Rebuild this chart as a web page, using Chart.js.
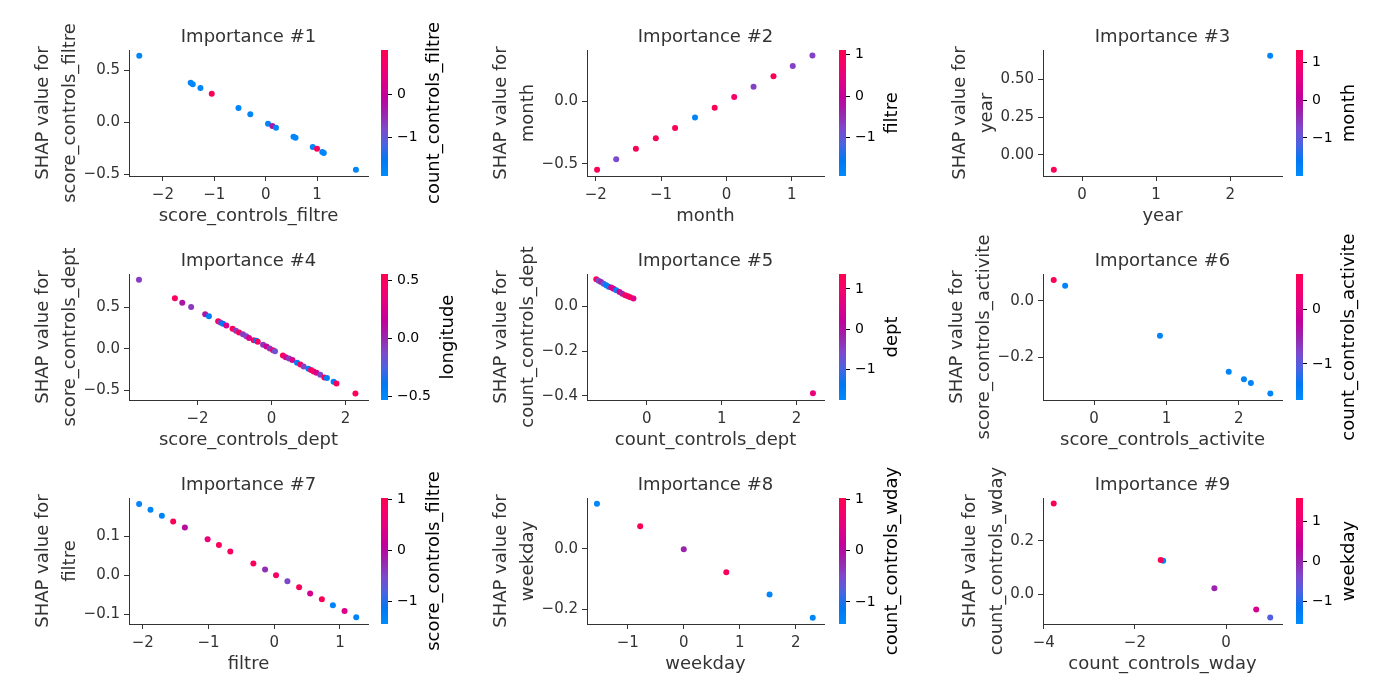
<!DOCTYPE html>
<html><head><meta charset="utf-8">
<script src="https://cdn.jsdelivr.net/npm/chart.js@4.4.1/dist/chart.umd.min.js"></script>
<style>html,body{margin:0;padding:0;background:#fff;width:1400px;height:700px;overflow:hidden;position:relative}canvas{position:absolute}</style>
</head><body>
<script>
// ---------- data ----------
const features = ['score_controls_filtre','month','year','score_controls_dept','count_controls_dept','score_controls_activite','filtre','weekday','count_controls_wday'];
const colorFeatures = ['count_controls_filtre','filtre','month','longitude','dept','count_controls_activite','score_controls_filtre','count_controls_wday','weekday'];

const p1X = [-2.46,-1.46,-1.42,-1.27,-1.05,-0.53,-0.30,0.045,0.13,0.20,0.54,0.58,0.915,0.998,1.10,1.13,1.755];
const p1Y = [0.643,0.382,0.367,0.331,0.276,0.138,0.077,-0.013,-0.036,-0.052,-0.139,-0.148,-0.238,-0.255,-0.287,-0.296,-0.457];
const p1C = [-1.8,-1.8,-1.8,-1.8,0.95,-1.8,-1.8,-1.8,-0.28,-1.8,-1.8,-1.8,-1.8,0.95,-1.8,-1.8,-1.8];

const p2X = [-1.98,-1.687,-1.386,-1.081,-0.786,-0.481,-0.18,0.119,0.415,0.72,1.015,1.316];
const p2Y = [-0.548,-0.465,-0.380,-0.297,-0.214,-0.131,-0.051,0.034,0.117,0.200,0.283,0.366];
const p2C = [1.05,-0.8,1.05,1.05,1.0,-1.8,1.05,0.8,-0.7,1.05,-0.7,-0.7];

const p3X = [-0.382,2.54];
const p3Y = [-0.097,0.656];
const p3C = [1.2,-1.9];

const p4X = [-3.58,-2.61,-2.41,-2.17,-1.79,-1.69,-1.44,-1.38,-1.31,-1.22,-1.05,-0.96,-0.875,-0.77,-0.68,-0.605,-0.48,-0.405,-0.37,-0.227,-0.135,-0.046,0.044,0.097,0.31,0.387,0.476,0.567,0.692,0.782,0.87,0.998,1.07,1.14,1.216,1.32,1.43,1.50,1.68,1.757,2.27];
const p4Y = [0.828,0.606,0.553,0.502,0.414,0.390,0.331,0.315,0.299,0.279,0.239,0.215,0.195,0.175,0.151,0.131,0.104,0.096,0.084,0.048,0.028,0.004,-0.016,-0.028,-0.080,-0.100,-0.116,-0.135,-0.167,-0.187,-0.211,-0.239,-0.255,-0.271,-0.287,-0.311,-0.343,-0.350,-0.394,-0.415,-0.534];
const p4C = [-0.07,0.5,0.07,-0.07,0.07,-0.45,0.5,-0.07,-0.4,0.25,0.5,-0.07,0.5,-0.07,-0.1,0.25,0.5,-0.4,0.5,-0.05,0.2,-0.07,0.45,-0.17,0.5,0.25,-0.07,0.25,-0.45,0.5,-0.1,-0.45,0.45,0.5,0.25,-0.1,0.5,-0.45,-0.45,0.5,0.5];

const p5X = [-0.676,-0.645,-0.613,-0.579,-0.543,-0.512,-0.476,-0.445,-0.409,-0.365,-0.329,-0.289,-0.253,-0.223,-0.179,2.22];
const p5Y = [0.120,0.114,0.108,0.100,0.093,0.087,0.083,0.078,0.071,0.064,0.056,0.049,0.044,0.040,0.034,-0.388];
const p5C = [1.3,-0.6,-0.2,-0.8,-1.5,-1.5,0.55,0.4,-1.5,0.55,-0.2,1.3,0.6,1.3,0.6,0.8];

const p6X = [-0.558,-0.40,0.91,1.86,2.07,2.166,2.435];
const p6Y = [0.0746,0.054,-0.124,-0.252,-0.279,-0.292,-0.329];
const p6C = [0.6,-1.55,-1.55,-1.55,-1.55,-1.55,-1.55];

const p7X = [-2.056,-1.883,-1.71,-1.538,-1.36,-1.014,-0.842,-0.669,-0.318,-0.14,0.027,0.20,0.378,0.546,0.724,0.892,1.069,1.247];
const p7Y = [0.182,0.167,0.152,0.137,0.122,0.092,0.077,0.061,0.030,0.015,0.0,-0.015,-0.0305,-0.046,-0.061,-0.076,-0.091,-0.107];
const p7C = [-1.35,-1.35,-1.35,0.95,0.0,0.6,0.9,0.9,0.95,-0.3,0.8,-0.5,0.95,0.3,0.95,-1.35,0.4,-1.35];

const p8X = [-1.551,-0.779,0.0,0.76,1.533,2.305];
const p8Y = [0.150,0.075,-0.001,-0.077,-0.151,-0.228];
const p8C = [-1.35,0.95,-0.2,0.9,-1.35,-1.35];

const p9X = [-3.78,-1.38,-1.435,-0.257,0.66,0.967];
const p9Y = [0.340,0.126,0.129,0.0225,-0.057,-0.087];
const p9C = [1.5,-1.45,1.5,0.01,0.64,-0.72];

const xLimits = [[-2.66,1.99],[-2.134,1.493],[-0.528,2.70],[-3.85,2.61],[-0.8,2.368],[-0.706,2.596],[-2.21,1.426],[-1.729,2.506],[-4.015,1.225]];
const yLimits = [[-0.518,0.698],[-0.599,0.411],[-0.139,0.694],[-0.613,0.896],[-0.418,0.1437],[-0.3525,0.0958],[-0.124,0.197],[-0.249,0.169],[-0.111,0.361]];
const cLimits = [[-1.906,1.05],[-1.92,1.11],[-2.01,1.33],[-0.532,0.558],[-1.75,1.37],[-1.66,0.646],[-1.44,1.03],[-1.43,1.03],[-1.565,1.585]];

const xTicks = [[-2,-1,0,1],[-2,-1,0,1],[0,1,2],[-2,0,2],[0,1,2],[0,1,2],[-2,-1,0,1],[-1,0,1,2],[-4,-2,0]];
const yTicks = [[-0.5,0,0.5],[-0.5,0],[0,0.25,0.5],[-0.5,0,0.5],[-0.4,-0.2,0],[-0.2,0],[-0.1,0,0.1],[-0.2,0],[0,0.2]];
const yTickLabels = [['\u22120.5','0.0','0.5'],['\u22120.5','0.0'],['0.00','0.25','0.50'],['\u22120.5','0.0','0.5'],['\u22120.4','\u22120.2','0.0'],['\u22120.2','0.0'],['\u22120.1','0.0','0.1'],['\u22120.2','0.0'],['0.0','0.2']];
const cTicks = [[-1,0],[-1,0,1],[-1,0,1],[-0.5,0,0.5],[-1,0,1],[-1,0],[-1,0,1],[-1,0,1],[-1,0,1]];
const cTickLabels = [['\u22121','0'],['\u22121','0','1'],['\u22121','0','1'],['\u22120.5','0.0','0.5'],['\u22121','0','1'],['\u22121','0'],['\u22121','0','1'],['\u22121','0','1'],['\u22121','0','1']];

const seriesX = [p1X,p2X,p3X,p4X,p5X,p6X,p7X,p8X,p9X];
const seriesY = [p1Y,p2Y,p3Y,p4Y,p5Y,p6Y,p7Y,p8Y,p9Y];
const seriesC = [p1C,p2C,p3C,p4C,p5C,p6C,p7C,p8C,p9C];

// ---------- layout / style ----------
const FONT = '"DejaVu Sans", sans-serif';
Chart.defaults.font.family = FONT;
const TXT = '#333333';
const colLeft = [129, 587, 1043], colRight = [368, 824, 1282];
const rowTop = [50, 274, 498], rowBottom = [176, 400, 624];
const cbLeft = [381, 839, 1296], CBW = 7;

const cmapStops = [[0,[0,139,251]],[0.125,[0,120,243]],[0.25,[74,99,227]],[0.375,[125,73,204]],[0.5,[155,36,173]],[0.625,[194,0,156]],[0.75,[224,0,134]],[0.875,[245,0,109]],[1,[255,0,82]]];
function cmap(t){
  t = Math.max(0, Math.min(1, t));
  for (let k = 1; k < cmapStops.length; k++) {
    const [t1, c1] = cmapStops[k], [t0, c0] = cmapStops[k-1];
    if (t <= t1) {
      const f = (t - t0) / (t1 - t0);
      return 'rgb(' + c0.map((v,j)=>Math.round(v + (c1[j]-v)*f)).join(',') + ')';
    }
  }
  return 'rgb(255,0,82)';
}
function fmtInt(v){ return (v < 0 ? '\u2212' : '') + Math.abs(v); }

const measureCtx = document.createElement('canvas').getContext('2d');
function maxWidth(labels, size){
  measureCtx.font = size + 'px "DejaVu Sans"';
  return Math.max(...labels.map(s => measureCtx.measureText(s).width));
}

function addCanvas(left, top, w, h){
  const cv = document.createElement('canvas');
  cv.width = w; cv.height = h;
  cv.style.left = left + 'px'; cv.style.top = top + 'px';
  cv.style.width = w + 'px'; cv.style.height = h + 'px';
  document.body.appendChild(cv);
  return cv;
}

function makeMain(i){
  const col = i % 3, row = Math.floor(i / 3);
  const L = colLeft[col], R = colRight[col], T = rowTop[row], B = rowBottom[row];
  const YW = 125, PR = 15, TOPH = 50, BOTH = 62, XH = 50.8;
  const W = YW + (R - L) + PR, H = TOPH + (B - T) + BOTH;
  const cv = addCanvas(L - YW, T - TOPH, W, H);
  const mw = maxWidth(yTickLabels[i], 15);
  const yTitlePad = YW - 9 - mw - 13 - 27 - 13.5;
  const pts = seriesX[i].map((x, k) => ({x: x, y: seriesY[i][k]}));
  const [cmin, cmax] = cLimits[i];
  const cols = seriesC[i].map(v => cmap((v - cmin) / (cmax - cmin)));
  new Chart(cv, {
    type: 'scatter',
    data: {datasets: [{data: pts, pointRadius: 3, pointHoverRadius: 3, pointBackgroundColor: cols, pointBorderWidth: 0, borderWidth: 0, clip: false}]},
    options: {
      responsive: false, animation: false, events: [],
      layout: {padding: {top: 26.6, left: 0, right: PR, bottom: BOTH - XH}},
      plugins: {
        legend: {display: false}, tooltip: {enabled: false},
        title: {display: true, fullSize: false, text: 'Importance #' + (i + 1), color: TXT,
                font: {family: FONT, size: 18, weight: 'normal', lineHeight: 1.2}, padding: {top: 0, bottom: 1.8}}
      },
      scales: {
        x: {
          type: 'linear', min: xLimits[i][0], max: xLimits[i][1],
          afterFit: s => { s.height = XH; },
          afterBuildTicks: s => { s.ticks = xTicks[i].map(v => ({value: v})); },
          grid: {drawOnChartArea: false, drawTicks: true, tickLength: 5, color: TXT, lineWidth: 1},
          border: {display: true, color: TXT, width: 1},
          ticks: {autoSkip: false, maxRotation: 0, padding: 5, color: TXT, font: {family: FONT, size: 15},
                  callback: (v, idx) => fmtInt(xTicks[i][idx])},
          title: {display: true, text: features[i], color: TXT, font: {family: FONT, size: 18, lineHeight: 1.2}, padding: {top: 0, bottom: 0}}
        },
        y: {
          type: 'linear', min: yLimits[i][0], max: yLimits[i][1],
          afterFit: s => { s.width = YW; },
          afterBuildTicks: s => { s.ticks = yTicks[i].map(v => ({value: v})); },
          grid: {drawOnChartArea: false, drawTicks: true, tickLength: 5, color: TXT, lineWidth: 1},
          border: {display: true, color: TXT, width: 1},
          ticks: {autoSkip: false, padding: 4, color: TXT, font: {family: FONT, size: 15},
                  callback: (v, idx) => yTickLabels[i][idx]},
          title: {display: true, text: ['SHAP value for', features[i]], color: TXT,
                  font: {family: FONT, size: 18, lineHeight: 1.5}, padding: {top: yTitlePad, bottom: 0}}
        }
      }
    }
  });
}

function makeColorbar(i){
  const col = i % 3, row = Math.floor(i / 3);
  const L = cbLeft[col], T = rowTop[row], B = rowBottom[row];
  const PL = 10, PT = 55, W = 130, H = (B - T) + 2 * PT;
  const cv = addCanvas(L - PL, T - PT, W, H);
  const [cmin, cmax] = cLimits[i];
  const mw = maxWidth(cTickLabels[i], 14);
  const labelPlugin = {
    id: 'cbLabel',
    afterDraw(chart){
      const ctx = chart.ctx, a = chart.chartArea;
      ctx.save();
      ctx.font = '18px "DejaVu Sans"';
      ctx.fillStyle = '#000';
      ctx.textAlign = 'center';
      ctx.textBaseline = 'middle';
      ctx.translate(a.right + 9 + mw + 17, (a.top + a.bottom) / 2);
      ctx.rotate(-Math.PI / 2);
      ctx.fillText(colorFeatures[i], 0, 0);
      ctx.restore();
    }
  };
  new Chart(cv, {
    type: 'bar',
    data: {labels: [''], datasets: [{
      data: [[cmin, cmax]], barPercentage: 1, categoryPercentage: 1, borderWidth: 0,
      backgroundColor: c => {
        const a = c.chart.chartArea;
        if (!a) return '#888';
        const g = c.chart.ctx.createLinearGradient(0, a.bottom, 0, a.top);
        cmapStops.forEach(s => g.addColorStop(s[0], 'rgb(' + s[1].join(',') + ')'));
        return g;
      }
    }]},
    options: {
      responsive: false, animation: false, events: [],
      layout: {padding: {top: PT, bottom: PT, left: PL, right: 0}},
      plugins: {legend: {display: false}, tooltip: {enabled: false}},
      scales: {
        x: {type: 'category', display: false},
        y: {
          type: 'linear', position: 'right', min: cmin, max: cmax,
          afterFit: s => { s.width = W - PL - CBW; },
          afterBuildTicks: s => { s.ticks = cTicks[i].map(v => ({value: v})); },
          grid: {drawOnChartArea: false, drawTicks: true, tickLength: 4, color: '#000', lineWidth: 1},
          border: {display: false},
          ticks: {autoSkip: false, padding: 5, color: '#000', font: {family: FONT, size: 14},
                  callback: (v, idx) => cTickLabels[i][idx]}
        }
      }
    },
    plugins: [labelPlugin]
  });
}

for (let i = 0; i < 9; i++) { makeMain(i); makeColorbar(i); }
</script>
</body></html>
